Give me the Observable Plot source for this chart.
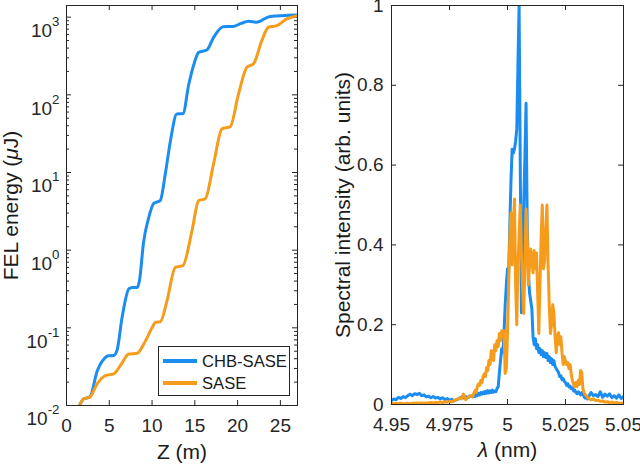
<!DOCTYPE html>
<html><head><meta charset="utf-8">
<script src="https://cdn.jsdelivr.net/npm/d3@7"></script>
<script src="https://cdn.jsdelivr.net/npm/@observablehq/plot@0.6"></script>
<style>
html,body{margin:0;padding:0;background:#fff;}
#wrap{position:relative;width:640px;height:466px;font-family:"Liberation Sans",Arial,Helvetica,sans-serif;color:#262626;}
#left,#right{position:absolute;top:0;}
#left{left:0}#right{left:320px}
.legend{position:absolute;left:158px;top:346px;width:132px;height:50px;box-sizing:border-box;border:1px solid #262626;background:#fff;font-size:16.6px;line-height:19px;}
.legend .sw{position:absolute;left:4px;width:34px;height:3.5px;}
.legend .lb{position:absolute;left:43px;white-space:nowrap;color:#1a1a1a;}
</style></head>
<body><div id="wrap"><div id="left"></div><div id="right"></div><div class="legend" id="legend"></div></div>
<script>
// ---------- Left panel: FEL energy vs Z ----------
const seriesNames = ["CHB-SASE", "SASE"];
const seriesColors = ["#1b8df0", "#f59c1c"];

const zChb = [1.52, 2.02, 2.72, 3.6, 4.4, 4.85, 5.5, 5.9, 6.5, 7.3, 7.7, 8.25, 8.55, 9.0, 9.6, 10.2, 10.95, 11.55, 12.15, 12.9, 13.6, 14.3, 14.9, 15.45, 16.4, 17.2, 18.3, 19.5, 20.4, 21.3, 22.2, 23.8, 27];
const eChb = [0.01, 0.0122, 0.0128, 0.028, 0.040, 0.0436, 0.044, 0.051, 0.137, 0.318, 0.33, 0.33, 0.42, 1.25, 2.6, 4.0, 4.35, 9.6, 25.7, 56.8, 57, 138, 250, 352, 378, 550, 755, 760, 830, 883, 860, 1023, 1070];

const zSase = [1.52, 2.02, 2.72, 3.58, 4.55, 5.52, 6.4, 7.27, 8.25, 9.03, 10.0, 10.4, 10.97, 11.75, 12.72, 13.6, 14.67, 15.44, 16.22, 17.19, 18.17, 19.14, 20.1, 21.08, 21.86, 22.83, 23.6, 24.57, 25.75, 27];
const eSase = [0.01, 0.0122, 0.0128, 0.019, 0.0243, 0.0256, 0.034, 0.046, 0.047, 0.062, 0.10, 0.118, 0.12, 0.224, 0.6, 0.63, 1.78, 4.35, 4.6, 12.9, 36.4, 39, 102, 226, 251, 498, 742, 776, 948, 1047];

const zTicks = [0, 5, 10, 15, 20, 25];
const eTicks = [0.01, 0.1, 1, 10, 100, 1000];
const eTickExps = ["-2", "-1", "0", "1", "2", "3"];

// ---------- Right panel: spectra ----------
const lam = [
4.950,4.951,4.952,4.953,4.954,4.955,4.956,4.957,4.958,4.959,
4.960,4.961,4.962,4.963,4.964,4.965,4.966,4.967,4.968,4.969,
4.970,4.971,4.972,4.973,4.974,4.975,4.976,4.977,4.978,4.979,
4.980,4.981,4.982,4.983,4.984,4.985,
4.9855,4.986,4.9865,4.987,4.9875,4.988,4.9885,4.989,4.9895,4.990,
4.9905,4.991,4.9915,4.992,4.9925,4.993,4.9935,4.994,4.9945,4.995,
4.9955,4.996,4.9965,4.997,4.9975,4.998,4.9985,4.999,4.9995,5.000,
5.0005,5.001,5.0015,5.002,5.0025,5.003,5.0035,5.004,5.0045,5.005,
5.0055,5.006,5.0065,5.007,5.0075,5.008,5.0085,5.009,5.0095,5.010,
5.0105,5.011,5.0115,5.012,5.0125,5.013,5.0135,5.014,5.0145,5.015,
5.0155,5.016,5.0165,5.017,5.0175,5.018,5.0185,5.019,5.0195,5.020,
5.0205,5.021,5.0215,5.022,5.0225,5.023,5.0235,5.024,5.0245,5.025,
5.0255,5.026,5.0265,5.027,5.0275,5.028,5.0285,5.029,5.0295,5.030,
5.0305,5.031,5.0315,5.032,5.0325,5.033,5.0335,5.034,5.0345,5.035,
5.036,5.037,5.038,5.039,5.040,5.041,5.042,5.043,5.044,5.045,
5.046,5.047,5.048,5.049,5.050];

const specChb = [
0.010,0.014,0.012,0.018,0.015,0.020,0.017,0.022,0.026,0.022,
0.027,0.025,0.028,0.022,0.024,0.019,0.021,0.017,0.020,0.016,
0.018,0.014,0.017,0.012,0.015,0.011,0.013,0.009,0.012,0.014,
0.018,0.016,0.020,0.017,0.022,0.019,
0.024,0.020,0.026,0.022,0.028,0.024,0.030,0.026,0.031,0.027,
0.033,0.028,0.035,0.029,0.034,0.030,0.036,0.031,0.034,0.032,
0.040,0.045,0.080,0.110,0.140,0.130,0.180,0.250,0.300,0.340,
0.330,0.450,0.560,0.640,0.630,0.640,0.660,0.690,0.850,1.000,
0.600,0.230,0.300,0.500,0.620,0.755,0.450,0.330,0.280,0.260,
0.240,0.170,0.150,0.165,0.140,0.150,0.130,0.140,0.125,0.135,
0.120,0.130,0.118,0.128,0.110,0.120,0.105,0.115,0.100,0.110,
0.095,0.090,0.085,0.080,0.070,0.072,0.062,0.065,0.058,0.055,
0.048,0.052,0.044,0.046,0.040,0.042,0.034,0.036,0.030,0.027,
0.032,0.028,0.024,0.030,0.026,0.020,0.016,0.018,0.014,0.020,
0.030,0.022,0.025,0.020,0.032,0.018,0.026,0.021,0.027,0.017,
0.022,0.016,0.024,0.015,0.020];

const specSase = [
0.003,0.002,0.003,0.002,0.003,0.002,0.002,0.003,0.002,0.003,
0.003,0.004,0.003,0.004,0.003,0.004,0.004,0.005,0.004,0.005,
0.005,0.006,0.005,0.007,0.006,0.008,0.007,0.010,0.012,0.016,
0.014,0.026,0.012,0.018,0.022,0.020,
0.028,0.035,0.030,0.045,0.052,0.048,0.060,0.055,0.070,0.077,
0.070,0.093,0.085,0.110,0.100,0.135,0.120,0.110,0.150,0.135,
0.160,0.145,0.178,0.160,0.185,0.170,0.185,0.078,0.090,0.178,
0.300,0.420,0.480,0.350,0.450,0.515,0.300,0.200,0.350,0.420,
0.500,0.380,0.300,0.228,0.350,0.490,0.420,0.300,0.350,0.390,
0.360,0.330,0.386,0.340,0.380,0.280,0.178,0.300,0.420,0.500,
0.340,0.360,0.440,0.500,0.350,0.250,0.178,0.200,0.250,0.230,
0.170,0.130,0.170,0.180,0.150,0.170,0.130,0.100,0.120,0.110,
0.100,0.105,0.090,0.100,0.075,0.060,0.050,0.044,0.055,0.045,
0.060,0.050,0.085,0.080,0.040,0.030,0.025,0.022,0.018,0.015,
0.012,0.014,0.010,0.011,0.008,0.009,0.006,0.007,0.005,0.006,
0.004,0.005,0.003,0.003,0.003];

const lamTicks = [4.95, 4.975, 5, 5.025, 5.05];
const lamTickLabels = ["4.95", "4.975", "5", "5.025", "5.05"];
const sTicks = [0, 0.2, 0.4, 0.6, 0.8, 1];
const sTickLabels = ["0", "0.2", "0.4", "0.6", "0.8", "1"];

// ---------- helpers ----------
const AX = "#262626";
const FONT = "'Liberation Sans', Arial, Helvetica, sans-serif";

function insideTicks(xt, yt, iw, ih, len) {
  return [
    Plot.tickX(xt, {x: d => d, insetTop: ih - len, stroke: AX}),
    Plot.tickX(xt, {x: d => d, insetBottom: ih - len, stroke: AX}),
    Plot.tickY(yt, {y: d => d, insetRight: iw - len, stroke: AX}),
    Plot.tickY(yt, {y: d => d, insetLeft: iw - len, stroke: AX})
  ];
}

function italicize(svg, ch) {
  d3.select(svg).selectAll("text").each(function () {
    const t = this.textContent;
    if (!t.includes(ch) || this.querySelector("tspan")) return;
    const parts = t.split(ch);
    const sel = d3.select(this);
    sel.text(null);
    parts.forEach((p, i) => {
      if (i > 0) sel.append("tspan").attr("font-style", "italic").text(ch);
      if (p) sel.append("tspan").text(p);
    });
  });
}

// minor log ticks
const minorE = [];
for (let k = -2; k <= 2; k++) for (let m = 2; m <= 9; m++) minorE.push(m * Math.pow(10, k));

const chbRows = zChb.map((z, i) => ({z, e: eChb[i]}));
const saseRows = zSase.map((z, i) => ({z, e: eSase[i]}));

const LW = 320, LH = 466, LML = 66, LMR = 23, LMT = 5, LMB = 61;
const liw = LW - LML - LMR, lih = LH - LMT - LMB;

const left = Plot.plot({
  width: LW, height: LH,
  marginLeft: LML, marginRight: LMR, marginTop: LMT, marginBottom: LMB,
  style: {fontFamily: FONT, fontSize: "19px", color: AX, background: "transparent", overflow: "visible"},
  x: {domain: [0, 27]},
  y: {type: "log", domain: [0.01, 1413]},
  marks: [
    Plot.axisX({ticks: zTicks, tickSize: 0, tickPadding: 13, label: null, fill: AX}),
    Plot.axisY({ticks: eTicks, tickSize: 0, tickPadding: 7, label: null, fill: AX,
      tickFormat: (d, i) => "10^" + eTickExps[eTicks.indexOf(d)]}),
    ...insideTicks(zTicks, eTicks, liw, lih, 5),
    Plot.tickY(minorE, {y: d => d, insetRight: liw - 3, stroke: AX}),
    Plot.tickY(minorE, {y: d => d, insetLeft: liw - 3, stroke: AX}),
    Plot.line(chbRows, {x: "z", y: "e", stroke: seriesColors[0], strokeWidth: 3, curve: "monotone-x", clip: true}),
    Plot.line(saseRows, {x: "z", y: "e", stroke: seriesColors[1], strokeWidth: 3, curve: "monotone-x", clip: true}),
    Plot.frame({stroke: AX, strokeWidth: 1}),
    Plot.text(["Z (m)"], {frameAnchor: "bottom", dy: 47, lineAnchor: "middle", textAnchor: "middle", text: d => d, fontSize: 21, fill: "#1a1a1a"}),
    Plot.text(["FEL energy (μJ)"], {frameAnchor: "left", dx: -55, rotate: -90, lineAnchor: "middle", textAnchor: "middle", text: d => d, fontSize: 21, fill: "#1a1a1a"})
  ]
});

// superscripts for log tick labels
d3.select(left).selectAll("text").each(function () {
  const t = this.textContent;
  const m = /^10\^(.+)$/.exec(t);
  if (!m) return;
  const sel = d3.select(this);
  sel.text(null).attr("dy", "0.72em");
  sel.append("tspan").text("10");
  sel.append("tspan").attr("dy", "-11px").attr("font-size", "13.3px").text(m[1]);
});
italicize(left, "μ");
document.getElementById("left").appendChild(left);

const specChbRows = lam.map((l, i) => ({l, v: specChb[i]}));
const specSaseRows = lam.map((l, i) => ({l, v: specSase[i]}));

const RW = 320, RH = 466, RML = 71, RMR = 17, RMT = 5, RMB = 62;
const riw = RW - RML - RMR, rih = RH - RMT - RMB;

const right = Plot.plot({
  width: RW, height: RH,
  marginLeft: RML, marginRight: RMR, marginTop: RMT, marginBottom: RMB,
  style: {fontFamily: FONT, fontSize: "19px", color: AX, background: "transparent", overflow: "visible"},
  x: {domain: [4.95, 5.05]},
  y: {domain: [0, 1]},
  marks: [
    Plot.axisX({ticks: lamTicks, tickSize: 0, tickPadding: 13, label: null, fill: AX,
      tickFormat: d => lamTickLabels[lamTicks.findIndex(t => Math.abs(t - d) < 1e-9)]}),
    Plot.axisY({ticks: sTicks, tickSize: 0, tickPadding: 8, label: null, fill: AX,
      tickFormat: d => sTickLabels[sTicks.findIndex(t => Math.abs(t - d) < 1e-9)]}),
    ...insideTicks(lamTicks, sTicks, riw, rih, 5),
    Plot.line(specChbRows, {x: "l", y: "v", stroke: seriesColors[0], strokeWidth: 3, clip: true}),
    Plot.line(specSaseRows, {x: "l", y: "v", stroke: seriesColors[1], strokeWidth: 3, clip: true}),
    Plot.frame({stroke: AX, strokeWidth: 1}),
    Plot.text(["λ (nm)"], {frameAnchor: "bottom", dy: 46, lineAnchor: "middle", textAnchor: "middle", text: d => d, fontSize: 21, fill: "#1a1a1a"}),
    Plot.text(["Spectral intensity (arb. units)"], {frameAnchor: "left", dx: -48, rotate: -90, lineAnchor: "middle", textAnchor: "middle", text: d => d, fontSize: 21, fill: "#1a1a1a"})
  ]
});
italicize(right, "λ");
document.getElementById("right").appendChild(right);

// legend (HTML overlay)
const lg = document.getElementById("legend");
const swTops = [12, 34], lbTops = [4.5, 26.5];
seriesNames.forEach((n, i) => {
  const sw = document.createElement("div");
  sw.className = "sw"; sw.style.top = swTops[i] + "px"; sw.style.background = seriesColors[i];
  const lb = document.createElement("div");
  lb.className = "lb"; lb.style.top = lbTops[i] + "px"; lb.textContent = n;
  lg.appendChild(sw); lg.appendChild(lb);
});
</script>
</body></html>
